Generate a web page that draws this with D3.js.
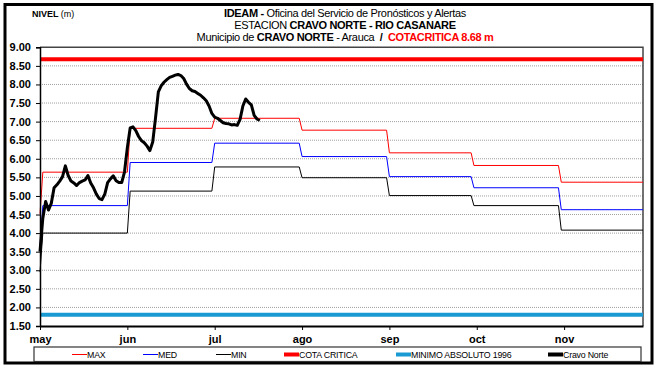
<!DOCTYPE html>
<html>
<head>
<meta charset="utf-8">
<script src="https://cdn.jsdelivr.net/npm/d3@7"></script>
<style>
  html, body { margin: 0; padding: 0; background: #fff; }
  svg { display: block; font-family: "Liberation Sans", Arial, sans-serif; }
</style>
</head>
<body>
<svg id="chart" width="656" height="367"></svg>
<script>
// Day index 0 = 30 abr; month boundaries as day indices (first day of each month)
const monthStartDays = [1, 32, 62, 93, 124, 154, 185];
const lastDay = 214;

// Monthly reference levels (m): initial value, then may..nov
const maxLevels = [4.52, 5.64, 6.82, 7.09, 6.77, 6.16, 5.82, 5.37];
const medLevels = [3.64, 4.74, 5.90, 6.42, 6.06, 5.52, 5.22, 4.63];
const minLevels = [2.95, 4.00, 5.13, 5.78, 5.49, 5.01, 4.74, 4.08];

const cotaCritica = 8.68;
const minimoAbsoluto = 1.80;

// Daily observed level at Cravo Norte (m), from day 0
const cravoNorte = [
  3.50, 4.40, 4.85, 4.62, 4.80, 5.22, 5.30, 5.40, 5.52, 5.81,
  5.55, 5.40, 5.35, 5.28, 5.36, 5.40, 5.43, 5.55, 5.35, 5.22,
  5.05, 4.93, 4.90, 5.05, 5.36, 5.46, 5.54, 5.41, 5.36, 5.36,
  5.65, 6.30, 6.83, 6.86, 6.76, 6.60, 6.49, 6.43, 6.34, 6.22,
  6.45, 7.10, 7.80, 7.96, 8.06, 8.13, 8.19, 8.22, 8.25, 8.27,
  8.24, 8.16, 8.01, 7.89, 7.83, 7.81, 7.76, 7.71, 7.64, 7.56,
  7.42, 7.22, 7.12, 7.09, 7.03, 6.97, 6.95, 6.94, 6.91, 6.92,
  6.90, 7.06, 7.42, 7.61, 7.52, 7.45, 7.17, 7.07, 7.03
];

const yTicks = [1.5, 2, 2.5, 3, 3.5, 4, 4.5, 5, 5.5, 6, 6.5, 7, 7.5, 8, 8.5, 9];
const xTickDays = [0, 31, 62, 93, 124, 155, 186];
const monthLabels = ["may", "jun", "jul", "ago", "sep", "oct", "nov"];

const legendItems = [
  { label: "MAX", color: "#ff0000", width: 1 },
  { label: "MED", color: "#0000ff", width: 1 },
  { label: "MIN", color: "#000000", width: 1 },
  { label: "COTA CRITICA", color: "#ff0000", width: 4 },
  { label: "MINIMO ABSOLUTO 1996", color: "#1a9ad2", width: 4 },
  { label: "Cravo Norte", color: "#000000", width: 4 }
];
const legendX = [72, 143, 216, 284, 396, 548];

const svg = d3.select("#chart");
const plot = { left: 40, right: 643, top: 47.3, bottom: 326 };

const x = d3.scaleLinear().domain([0, lastDay]).range([plot.left, plot.right]);
const y = d3.scaleLinear().domain([1.5, 9]).range([plot.bottom, plot.top]);

// outer frame
svg.append("rect")
  .attr("x", 5).attr("y", 4.5).attr("width", 647).attr("height", 358.5)
  .attr("fill", "none").attr("stroke", "#000").attr("stroke-width", 3);

// titles
const NB = "\u00A0";
const title = svg.append("g").attr("text-anchor", "middle").attr("font-size", 11)
  .attr("letter-spacing", -0.35);
const t1 = title.append("text").attr("x", 345).attr("y", 17);
t1.append("tspan").attr("font-weight", "bold").text("IDEAM - ");
t1.append("tspan").text("Oficina del Servicio de Pronósticos y Alertas");
const t2 = title.append("text").attr("x", 345).attr("y", 29);
t2.append("tspan").text("ESTACION ");
t2.append("tspan").attr("font-weight", "bold").text("CRAVO NORTE - RIO CASANARE");
const t3 = title.append("text").attr("x", 345).attr("y", 41);
t3.append("tspan").text("Municipio de ");
t3.append("tspan").attr("font-weight", "bold").text("CRAVO NORTE");
t3.append("tspan").text(" - Arauca" + NB + NB);
t3.append("tspan").attr("font-weight", "bold").text("/" + NB + NB);
t3.append("tspan").attr("font-weight", "bold").attr("fill", "#ff0000").text("COTACRITICA 8.68 m");

const yl = svg.append("text").attr("x", 32).attr("y", 17).attr("font-size", 9);
yl.append("tspan").attr("font-weight", "bold").text("NIVEL ");
yl.append("tspan").text("(m)");

// gridlines
svg.append("g")
  .selectAll("line")
  .data(yTicks.filter(v => v > 1.5 && v < 9))
  .join("line")
  .attr("x1", plot.left).attr("x2", plot.right)
  .attr("y1", d => y(d)).attr("y2", d => y(d))
  .attr("stroke", "#a0a0a0").attr("stroke-width", 1)
  .attr("stroke-dasharray", "1 1");

// plot border (top / right)
svg.append("path")
  .attr("d", `M${plot.left},${plot.top}H${plot.right}V${plot.bottom}`)
  .attr("fill", "none").attr("stroke", "#444").attr("stroke-width", 1.5);

// monthly step series
function stepPoints(levels) {
  const pts = [[0, levels[0]]];
  monthStartDays.forEach((d, i) => {
    if (i > 0) pts.push([d - 1, levels[i]]);
    pts.push([d, levels[i + 1]]);
  });
  pts.push([lastDay, levels[levels.length - 1]]);
  return pts;
}
const line = d3.line().x(d => x(d[0])).y(d => y(d[1]));

[[minLevels, "#000", 1], [medLevels, "#0000ff", 1], [maxLevels, "#ff0000", 1]].forEach(([lv, c, w]) => {
  svg.append("path").datum(stepPoints(lv)).attr("d", line)
    .attr("fill", "none").attr("stroke", c).attr("stroke-width", w);
});

// constant reference levels
svg.append("line")
  .attr("x1", plot.left).attr("x2", plot.right)
  .attr("y1", y(cotaCritica)).attr("y2", y(cotaCritica))
  .attr("stroke", "#ff0000").attr("stroke-width", 4);
svg.append("line")
  .attr("x1", plot.left).attr("x2", plot.right)
  .attr("y1", y(minimoAbsoluto)).attr("y2", y(minimoAbsoluto))
  .attr("stroke", "#1a9ad2").attr("stroke-width", 4);

// observed series
svg.append("path")
  .datum(cravoNorte.map((v, i) => [i, v]))
  .attr("d", line)
  .attr("fill", "none").attr("stroke", "#000").attr("stroke-width", 3)
  .attr("stroke-linejoin", "round");

// axes
const yAxis = svg.append("g").attr("transform", `translate(${plot.left},0)`)
  .call(d3.axisLeft(y).tickValues(yTicks).tickFormat(d3.format(".2f")).tickSize(4).tickPadding(5));
yAxis.select(".domain").attr("stroke-width", 1.5);
yAxis.selectAll("text").attr("font-size", 11).attr("font-weight", "bold")
  .attr("font-family", "Liberation Sans, Arial, sans-serif").attr("fill", "#000");

const xAxis = svg.append("g").attr("transform", `translate(0,${plot.bottom})`)
  .call(d3.axisBottom(x).tickValues(xTickDays).tickFormat((d, i) => monthLabels[i]).tickSize(4).tickPadding(5).tickSizeOuter(0));
xAxis.select(".domain").attr("stroke-width", 2);
xAxis.selectAll("text").attr("font-size", 11).attr("font-weight", "bold")
  .attr("font-family", "Liberation Sans, Arial, sans-serif").attr("fill", "#000");

// legend
const legend = svg.append("g");
legend.append("rect").attr("x", 34).attr("y", 347).attr("width", 607).attr("height", 14.5)
  .attr("fill", "#fff").attr("stroke", "#333").attr("stroke-width", 1.2);
legendItems.forEach((item, i) => {
  const lx = legendX[i];
  legend.append("line").attr("x1", lx).attr("x2", lx + 15).attr("y1", 354.5).attr("y2", 354.5)
    .attr("stroke", item.color).attr("stroke-width", item.width);
  legend.append("text").attr("x", lx + 15).attr("y", 357.5)
    .attr("font-size", 8.8).attr("letter-spacing", -0.2).text(item.label);
});
</script>
</body>
</html>
